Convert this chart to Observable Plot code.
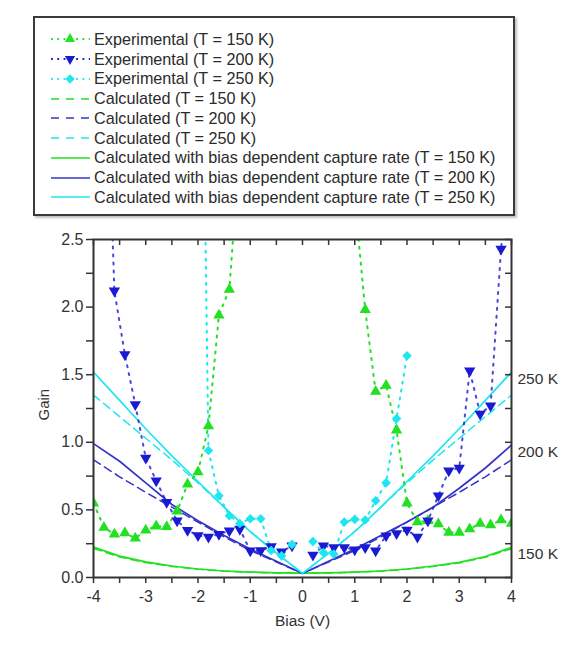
<!DOCTYPE html>
<html><head><meta charset="utf-8">
<script src="https://cdn.jsdelivr.net/npm/d3@7"></script>
<script src="https://cdn.jsdelivr.net/npm/@observablehq/plot@0.6"></script>
<style>
body{margin:0;background:#fff;font-family:"Liberation Sans",Arial,sans-serif;}
#legend{position:absolute;left:33px;top:16px;width:478px;height:196px;border:2px solid #3a3a3a;box-shadow:2px 2px 2px rgba(0,0,0,0.25);background:#fff;}
.row{position:absolute;left:16px;height:20px;display:flex;align-items:center;}
.row span{font-size:16.2px;color:#2b2b2b;margin-left:3px;white-space:nowrap;}
#chart{position:absolute;left:0;top:225px;}
</style></head><body>
<div id="legend"></div><div id="chart"></div>
<script>
// ---------- data ----------
const xTicks = [-4,-3.5,-3,-2.5,-2,-1.5,-1,-0.5,0,0.5,1,1.5,2,2.5,3,3.5,4];
const yTicks = [0,0.25,0.5,0.75,1,1.25,1.5,1.75,2,2.25,2.5];

// Experimental, T = 150 K (left and right branches)
const bias150L = [-4,-3.8,-3.6,-3.4,-3.2,-3.0,-2.8,-2.6,-2.4,-2.2,-2.0,-1.8,-1.6,-1.4,-1.2];
const gain150L = [0.55,0.37,0.32,0.33,0.29,0.35,0.38,0.375,0.49,0.69,0.78,1.12,1.94,2.13,3.19];
const bias150R = [1.0,1.2,1.4,1.6,1.8,2.0,2.2,2.4,2.6,2.8,3.0,3.2,3.4,3.6,3.8,4.0];
const gain150R = [2.8,1.98,1.375,1.42,1.09,0.55,0.41,0.42,0.395,0.333,0.333,0.358,0.40,0.388,0.425,0.40];

// Experimental, T = 200 K
const bias200L = [-3.8,-3.6,-3.4,-3.2,-3.0,-2.8,-2.6,-2.4,-2.2,-2.0,-1.8,-1.6,-1.4,-1.2,-1.0,-0.8,-0.6,-0.4,-0.2];
const gain200L = [4.4,2.12,1.65,1.28,0.884,0.716,0.556,0.42,0.35,0.31,0.30,0.32,0.346,0.358,0.198,0.20,0.23,0.19,0.235];
const bias200R = [0.2,0.4,0.6,0.8,1.0,1.2,1.4,1.6,1.8,2.0,2.2,2.4,2.6,2.8,3.0,3.2,3.4,3.6,3.8,4.0];
const gain200R = [0.166,0.235,0.222,0.222,0.205,0.222,0.198,0.309,0.326,0.351,0.30,0.42,0.605,0.79,0.81,1.53,1.21,1.27,2.43,3.2];

// Experimental, T = 250 K
const bias250L = [-2.0,-1.8,-1.6,-1.4,-1.2,-1.0,-0.8,-0.6,-0.4,-0.2];
const gain250L = [6.5,0.94,0.605,0.457,0.40,0.435,0.435,0.20,0.16,0.245];
const bias250R = [0.2,0.4,0.6,0.8,1.0,1.2,1.4,1.6,1.8,2.0];
const gain250R = [0.267,0.185,0.173,0.41,0.43,0.425,0.568,0.70,1.175,1.64];

// Calculated curves
const biasCalc = [-4,-3.5,-3,-2.5,-2,-1.5,-1,-0.5,0,0.5,1,1.5,2,2.5,3,3.5,4];
const gainDash150 = [0.215,0.152,0.11,0.082,0.061,0.047,0.039,0.034,0.032,0.034,0.039,0.047,0.061,0.082,0.108,0.15,0.213];
const gainDash200 = [0.87,0.745,0.63,0.52,0.41,0.30,0.20,0.115,0.03,0.115,0.20,0.30,0.41,0.52,0.63,0.745,0.87];
const gainDash250 = [1.35,1.19,1.03,0.87,0.70,0.52,0.34,0.18,0.03,0.18,0.34,0.52,0.70,0.87,1.03,1.19,1.35];
const gainSolid150 = [0.225,0.158,0.115,0.085,0.063,0.048,0.04,0.034,0.032,0.034,0.04,0.048,0.063,0.085,0.112,0.155,0.222];
const gainSolid200 = [0.99,0.86,0.70,0.54,0.42,0.31,0.21,0.12,0.03,0.12,0.21,0.31,0.41,0.52,0.66,0.81,0.98];
const gainSolid250 = [1.52,1.31,1.10,0.90,0.71,0.52,0.34,0.18,0.03,0.18,0.34,0.52,0.71,0.90,1.10,1.31,1.52];

const tempLabels = ["150 K","200 K","250 K"];
const legendLabels = [
  "Experimental (T = 150 K)","Experimental (T = 200 K)","Experimental (T = 250 K)",
  "Calculated (T = 150 K)","Calculated (T = 200 K)","Calculated (T = 250 K)",
  "Calculated with bias dependent capture rate (T = 150 K)",
  "Calculated with bias dependent capture rate (T = 200 K)",
  "Calculated with bias dependent capture rate (T = 250 K)"
];

// ---------- styles ----------
const cGreen = "#22e022", cBlue = "#1a1ad2", cBlueLine = "#3434c8", cCyan = "#1ee6f0";
const triDown = {draw(ctx, size){ const y = -Math.sqrt(size/(Math.sqrt(3)*3)); ctx.moveTo(0,-y*2); ctx.lineTo(-Math.sqrt(3)*y, y); ctx.lineTo(Math.sqrt(3)*y, y); ctx.closePath(); }};

const rows = (b, g) => b.map((x,i)=>({x, y:g[i]}));
const split = (bl, gl, br, gr) => [...rows(bl,gl), {x:0, y:NaN}, ...rows(br,gr)];
const exp150 = split(bias150L,gain150L,bias150R,gain150R);
const exp200 = split(bias200L,gain200L,bias200R,gain200R);
const exp250 = split(bias250L,gain250L,bias250R,gain250R);

// ---------- legend ----------
const legendStyles = [
  {c:cGreen,k:"exp",s:d3.symbolTriangle},{c:cBlue,k:"exp",s:triDown},{c:cCyan,k:"exp",s:d3.symbolDiamond2},
  {c:cGreen,k:"dash"},{c:cBlueLine,k:"dash"},{c:cCyan,k:"dash"},
  {c:cGreen,k:"solid"},{c:cBlueLine,k:"solid"},{c:cCyan,k:"solid"}
];
const leg = d3.select("#legend");
legendLabels.forEach((lab,i)=>{
  const st = legendStyles[i];
  const row = leg.append("div").attr("class","row").style("top",(11.3+19.75*i)+"px");
  const sv = row.append("svg").attr("width",40).attr("height",20);
  const ln = sv.append("line").attr("x1",0).attr("x2",39).attr("y1",10).attr("y2",10).attr("stroke",st.c);
  if(st.k==="exp"){ ln.attr("stroke-width",1.8).attr("stroke-dasharray","1.8,4.5");
    sv.append("path").attr("d",d3.symbol(st.s, st.s===d3.symbolDiamond2?55:45)()).attr("transform","translate(19,10)").attr("fill",st.c); }
  else if(st.k==="dash"){ ln.attr("stroke-width",1.6).attr("stroke-dasharray","8,7"); }
  else { ln.attr("stroke-width",1.6); }
  row.append("span").text(lab);
});

// ---------- chart ----------
const W=581,H=412,mL=93,mR=70,mT=14,mB=60;
const pw=W-mL-mR, ph=H-mT-mB;
const xFmt = d => Math.abs(d-Math.round(d))<1e-9 ? (d<0 ? "-"+Math.abs(Math.round(d)) : String(Math.round(d))) : "";
const yFmt = d => Math.abs(d*2-Math.round(d*2))<1e-9 ? d.toFixed(1) : "";
const dotted = {strokeWidth:2, strokeDasharray:"2,6", clip:true};
const dashed = {strokeWidth:1.5, strokeDasharray:"8,5", clip:true};
const solid = {strokeWidth:1.7, clip:true};
const ends = [
  {x:biasCalc[biasCalc.length-1], y:gainSolid150[gainSolid150.length-1], t:tempLabels[0]},
  {x:biasCalc[biasCalc.length-1], y:gainSolid200[gainSolid200.length-1], t:tempLabels[1]},
  {x:biasCalc[biasCalc.length-1], y:gainSolid250[gainSolid250.length-1], t:tempLabels[2]}
];

const chart = Plot.plot({
  width:W, height:H, marginLeft:mL, marginRight:mR, marginTop:mT, marginBottom:mB,
  x:{domain:[-4,4]}, y:{domain:[0,2.5]},
  style:{fontSize:"16px", fontFamily:"'Liberation Sans', Arial, sans-serif", color:"#333", background:"#fff"},
  marks:[
    Plot.line(rows(biasCalc,gainDash150),{x:"x",y:"y",stroke:cGreen,...dashed}),
    Plot.line(rows(biasCalc,gainDash200),{x:"x",y:"y",stroke:cBlueLine,...dashed}),
    Plot.line(rows(biasCalc,gainDash250),{x:"x",y:"y",stroke:cCyan,...dashed}),
    Plot.line(rows(biasCalc,gainSolid150),{x:"x",y:"y",stroke:cGreen,...solid}),
    Plot.line(rows(biasCalc,gainSolid200),{x:"x",y:"y",stroke:cBlueLine,...solid}),
    Plot.line(rows(biasCalc,gainSolid250),{x:"x",y:"y",stroke:cCyan,...solid}),
    Plot.line(exp150,{x:"x",y:"y",stroke:cGreen,...dotted}),
    Plot.line(exp200,{x:"x",y:"y",stroke:cBlue,...dotted, strokeOpacity:0.8}),
    Plot.line(exp250,{x:"x",y:"y",stroke:cCyan,...dotted}),
    Plot.dot(exp150.filter(d=>isFinite(d.y)),{x:"x",y:"y",symbol:"triangle",r:4.2,fill:cGreen,clip:true}),
    Plot.dot(exp200.filter(d=>isFinite(d.y)),{x:"x",y:"y",symbol:triDown,r:4.2,fill:cBlue,clip:true}),
    Plot.dot(exp250.filter(d=>isFinite(d.y)),{x:"x",y:"y",symbol:"diamond2",r:4.3,fill:cCyan,clip:true}),
    Plot.frame({stroke:"#333",strokeWidth:2}),
    Plot.axisX({ticks:xTicks, tickSize:6, tickPadding:7, tickFormat:xFmt, label:null, strokeWidth:1.5}),
    Plot.axisY({ticks:yTicks, tickSize:7, tickPadding:3, tickFormat:yFmt, label:null, strokeWidth:1.5}),
    Plot.tickX(xTicks,{x:d=>d, insetBottom:ph-6, stroke:"#333", strokeWidth:1.5}),
    Plot.tickY(yTicks,{y:d=>d, insetLeft:pw-6, stroke:"#333", strokeWidth:1.5}),
    Plot.text(["Bias (V)"],{frameAnchor:"bottom", dy:48, fontSize:15.5, fill:"#333"}),
    Plot.text(["Gain"],{frameAnchor:"left", dx:-49, dy:12, rotate:-90, fontSize:15, fill:"#333"}),
    Plot.text(ends,{x:"x", y:"y", text:"t", dx:6, dy:7, textAnchor:"start", fontSize:15.5, fill:"#333"})
  ]
});
document.getElementById("chart").appendChild(chart);
</script></body></html>
